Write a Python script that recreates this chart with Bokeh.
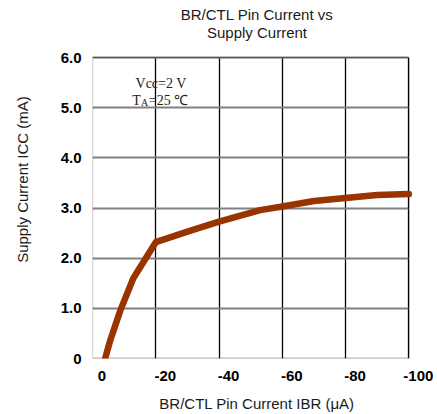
from bokeh.plotting import figure
from bokeh.models import Range1d, FixedTicker, Label, BoxAnnotation
from bokeh.embed import file_html
from bokeh.resources import INLINE

# ---- data ----
ibr_ua = [-4, -5.6, -8.8, -12.9, -20, -30, -40, -53, -60, -70, -80, -90, -100]
icc_ma = [0.0, 0.36, 0.96, 1.6, 2.32, 2.53, 2.73, 2.96, 3.03, 3.14, 3.2, 3.26, 3.28]

x_ticks = [0, -20, -40, -60, -80, -100]
x_tick_labels = ["0", "-20", "-40", "-60", "-80", "-100"]
y_ticks = [0, 1, 2, 3, 4, 5, 6]
y_tick_labels = ["0", "1.0", "2.0", "3.0", "4.0", "5.0", "6.0"]

title_line1 = "BR/CTL Pin Current vs"
title_line2 = "Supply Current"
x_label = "BR/CTL Pin Current IBR (\u03bcA)"
y_label = "Supply Current ICC (mA)"

SANS = "Liberation Sans"
SERIF = "Liberation Serif"

X_MIN, X_MAX = x_ticks[0], x_ticks[-1]
Y_MIN, Y_MAX = y_ticks[0], y_ticks[-1]
X_PAD = 4        # room on the right for the last tick label
Y_HEAD = 1.14    # room above the plot box for the two-line heading

p = figure(width=437, height=414, output_backend="svg", toolbar_location=None,
           x_range=Range1d(X_MIN, X_MAX - X_PAD), y_range=Range1d(Y_MIN, Y_MAX + Y_HEAD),
           min_border_left=92, min_border_right=16, min_border_top=0,
           min_border_bottom=56, title=None)

p.outline_line_color = None
p.background_fill_color = "white"
p.border_fill_color = "white"

# grids limited to the plot box
p.xgrid.ticker = FixedTicker(ticks=x_ticks)
p.xgrid.grid_line_color = "black"
p.xgrid.grid_line_width = 1.3
p.xgrid.cross_bounds = (Y_MIN, Y_MAX)
p.ygrid.ticker = FixedTicker(ticks=y_ticks)
p.ygrid.grid_line_color = "#808080"
p.ygrid.grid_line_width = 2
p.ygrid.cross_bounds = (X_MAX, X_MIN)

# plot border
p.add_layout(BoxAnnotation(left=X_MIN, right=X_MAX, bottom=Y_MIN, top=Y_MAX,
                           fill_alpha=0, line_color="black", line_width=1.3,
                           level="underlay"))
p.add_layout(BoxAnnotation(left=X_MIN, right=X_MAX, bottom=Y_MIN, top=Y_MIN,
                           fill_alpha=0, line_color="#808080", line_width=2,
                           level="underlay"))

# x axis: labels sit slightly right of the gridlines in the reference
shift = 3
p.xaxis.ticker = FixedTicker(ticks=[t - shift for t in x_ticks])
p.xaxis.major_label_overrides = {t - shift: lab for t, lab in zip(x_ticks, x_tick_labels)}
p.xaxis.axis_line_color = None
p.xaxis.major_tick_line_color = None
p.xaxis.minor_tick_line_color = None
p.xaxis.major_label_standoff = 6
p.xaxis.major_label_text_font = SANS
p.xaxis.major_label_text_font_size = "15px"
p.xaxis.major_label_text_font_style = "bold"
p.xaxis.major_label_text_color = "black"
p.xaxis.axis_label = x_label
p.xaxis.axis_label_standoff = 11
p.xaxis.axis_label_text_font = SANS
p.xaxis.axis_label_text_font_size = "15px"
p.xaxis.axis_label_text_font_style = "normal"
p.xaxis.axis_label_text_color = "#1a1a1a"

p.yaxis.ticker = FixedTicker(ticks=y_ticks)
p.yaxis.major_label_overrides = {t: lab for t, lab in zip(y_ticks, y_tick_labels)}
p.yaxis.axis_line_color = None
p.yaxis.major_tick_line_color = None
p.yaxis.minor_tick_line_color = None
p.yaxis.major_label_standoff = 5
p.yaxis.major_label_text_font = SANS
p.yaxis.major_label_text_font_size = "15px"
p.yaxis.major_label_text_font_style = "bold"
p.yaxis.major_label_text_color = "black"
p.yaxis.axis_label = y_label
p.yaxis.axis_label_standoff = 27
p.yaxis.axis_label_text_font = SANS
p.yaxis.axis_label_text_font_size = "15px"
p.yaxis.axis_label_text_font_style = "normal"
p.yaxis.axis_label_text_color = "#1a1a1a"

# curve
p.line(ibr_ua, icc_ma, line_color="#993300", line_width=6.5,
       line_cap="round", line_join="round")

# heading (two centred lines above the plot box)
head_style = dict(text_font=SANS, text_font_size="15px", text_align="center",
                  text_baseline="middle", text_color="#1a1a1a")
p.add_layout(Label(x=-52.0, y=Y_MAX + 0.86, text=title_line1, **head_style))
p.add_layout(Label(x=-52.0, y=Y_MAX + 0.50, text=title_line2, **head_style))

# condition notes
note_style = dict(text_font=SERIF, text_baseline="middle", text_align="left",
                  text_color="#222222")
p.add_layout(Label(x=-13.6, y=5.48, text="Vcc=2 V", text_font_size="14px", **note_style))
p.add_layout(Label(x=-12.6, y=5.14, text="T", text_font_size="14px", **note_style))
p.add_layout(Label(x=-15.3, y=5.10, text="A", text_font_size="10px", **note_style))
p.add_layout(Label(x=-17.8, y=5.14, text="=25 \u2103", text_font_size="14px", **note_style))

open("out.html", "w").write(file_html(p, INLINE))
